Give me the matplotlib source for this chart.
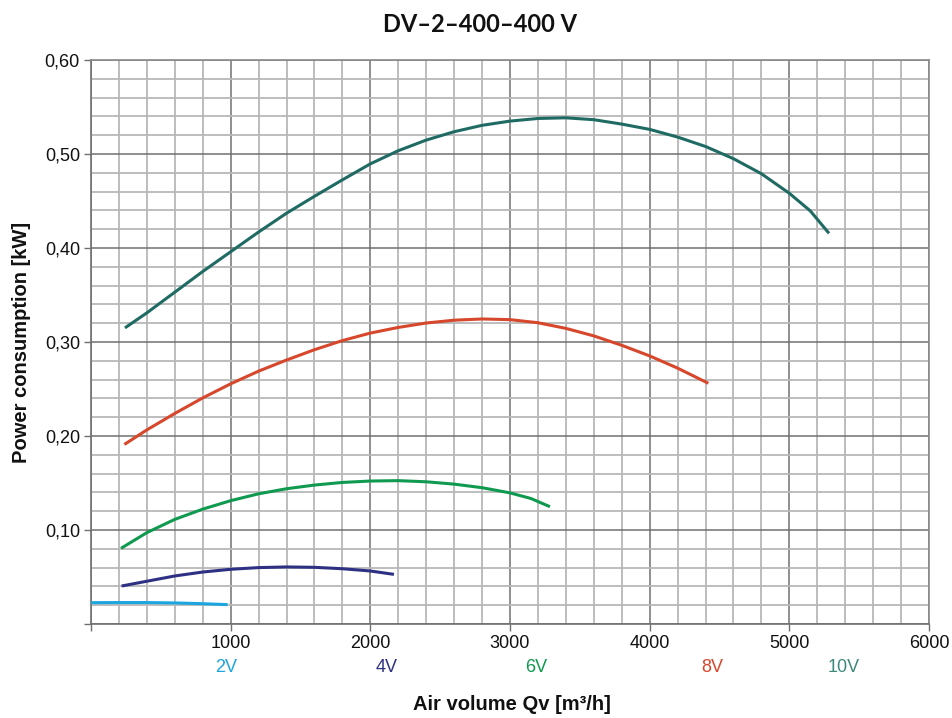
import matplotlib
matplotlib.use("Agg")
import matplotlib.pyplot as plt
from matplotlib.ticker import MultipleLocator, FixedLocator

plt.rcParams['font.family'] = ['Liberation Sans', 'DejaVu Sans']

# Fan curves: air volume [m3/h] vs power consumption [kW] per control voltage
q_10v = [243, 400, 600, 800, 1000, 1200, 1400, 1600, 1800, 2000, 2200, 2400, 2600, 2800,
         3000, 3200, 3400, 3600, 3800, 4000, 4200, 4400, 4600, 4800, 5000, 5150, 5284]
p_10v = [0.315, 0.331, 0.353, 0.375, 0.396, 0.417, 0.437, 0.455, 0.4725, 0.4895, 0.5035,
         0.5148, 0.5237, 0.5305, 0.535, 0.5378, 0.5385, 0.5365, 0.5318, 0.5262, 0.518, 0.508,
         0.495, 0.479, 0.4582, 0.4395, 0.4156]

q_8v = [239, 400, 600, 800, 1000, 1200, 1400, 1600, 1800, 2000, 2200, 2400, 2600, 2800,
        3000, 3200, 3400, 3600, 3800, 4000, 4200, 4420]
p_8v = [0.191, 0.2065, 0.224, 0.2405, 0.2555, 0.269, 0.2808, 0.2918, 0.3015, 0.3095, 0.3155,
        0.3202, 0.3232, 0.3245, 0.3238, 0.3205, 0.3145, 0.3065, 0.2965, 0.2852, 0.2722, 0.2561]

q_6v = [215, 400, 600, 800, 1000, 1200, 1400, 1600, 1800, 2000, 2200, 2400, 2600, 2800,
        3000, 3150, 3286]
p_6v = [0.0805, 0.0972, 0.1113, 0.1222, 0.1312, 0.1385, 0.1439, 0.1478, 0.1506, 0.1521,
        0.1525, 0.1513, 0.1488, 0.1450, 0.1395, 0.1335, 0.1248]

q_4v = [219, 400, 600, 800, 1000, 1200, 1400, 1600, 1800, 2000, 2169]
p_4v = [0.0404, 0.0455, 0.0511, 0.0553, 0.0582, 0.0600, 0.0607, 0.0603, 0.0588, 0.0564, 0.0528]

q_2v = [0, 200, 400, 600, 800, 978]
p_2v = [0.0227, 0.0228, 0.0228, 0.0224, 0.0216, 0.0206]

voltage_labels = ["2V", "4V", "6V", "8V", "10V"]
label_q = [970, 2120, 3185, 4446, 5390]

x_ticks = [0, 1000, 2000, 3000, 4000, 5000, 6000]
x_tick_labels = ["", "1000", "2000", "3000", "4000", "5000", "6000"]
y_ticks = [0.0, 0.1, 0.2, 0.3, 0.4, 0.5, 0.6]
y_tick_labels = ["", "0,10", "0,20", "0,30", "0,40", "0,50", "0,60"]

colors = {
    "2V": "#1ba6e0",
    "4V": "#2e3183",
    "6V": "#0f9a50",
    "8V": "#d6472c",
    "10V": "#1f6b64",
}
label_colors = {
    "2V": "#1ba6e0",
    "4V": "#2e3183",
    "6V": "#0f9a50",
    "8V": "#d6472c",
    "10V": "#3d8a7c",
}

fig = plt.figure(figsize=(9.52, 7.18), dpi=100)
ax = fig.add_axes([91 / 952, 1 - 624 / 718, (929 - 91) / 952, (624 - 60) / 718])

ax.set_xlim(0, 6000)
ax.set_ylim(0, 0.6)

# graph-paper grid
ax.xaxis.set_minor_locator(MultipleLocator(200))
ax.yaxis.set_minor_locator(MultipleLocator(0.02))
ax.grid(which='minor', color='#b8b8b8', linewidth=1.3, zorder=0)
ax.grid(which='major', color='#707070', linewidth=1.1, zorder=0.5)
ax.set_axisbelow(True)

ax.xaxis.set_major_locator(FixedLocator(x_ticks))
ax.yaxis.set_major_locator(FixedLocator(y_ticks))
ax.set_xticklabels(x_tick_labels)
ax.set_yticklabels(y_tick_labels)
ax.tick_params(which='major', direction='out', length=5, width=1, color='#707070',
               labelsize=13, labelcolor='#111111', pad=3)
ax.tick_params(which='minor', length=0)

for side in ['left', 'bottom']:
    ax.spines[side].set_color('#707070')
    ax.spines[side].set_linewidth(1.2)
for side in ['top', 'right']:
    ax.spines[side].set_color('#8a8a8a')
    ax.spines[side].set_linewidth(1.2)

series = [("2V", q_2v, p_2v), ("4V", q_4v, p_4v), ("6V", q_6v, p_6v),
          ("8V", q_8v, p_8v), ("10V", q_10v, p_10v)]
for name, q, p in series:
    ax.plot(q, p, color=colors[name], linewidth=2.2, solid_capstyle='butt',
            solid_joinstyle='round', zorder=3)

# voltage labels under the x axis
trans = ax.get_xaxis_transform()
for name, q in zip(voltage_labels, label_q):
    ax.text(q, -0.078, name, transform=trans, ha='center', va='center',
            fontsize=13, color=label_colors[name])

fig.text(512 / 952, 1 - 705 / 718, "Air volume Qv [m³/h]", ha='center', va='center',
         fontsize=14.5, fontweight='bold', color='#111111')
ax.set_ylabel("Power consumption [kW]", fontsize=14.5, fontweight='bold', labelpad=10,
              color='#111111')

fig.text(480 / 952, 1 - 25 / 718, "DV–2–400–400 V", ha='center', va='center',
         fontsize=17, fontweight='bold', family=['Lato', 'DejaVu Sans'], color='#111111')

fig.savefig("out.png", dpi=100)
